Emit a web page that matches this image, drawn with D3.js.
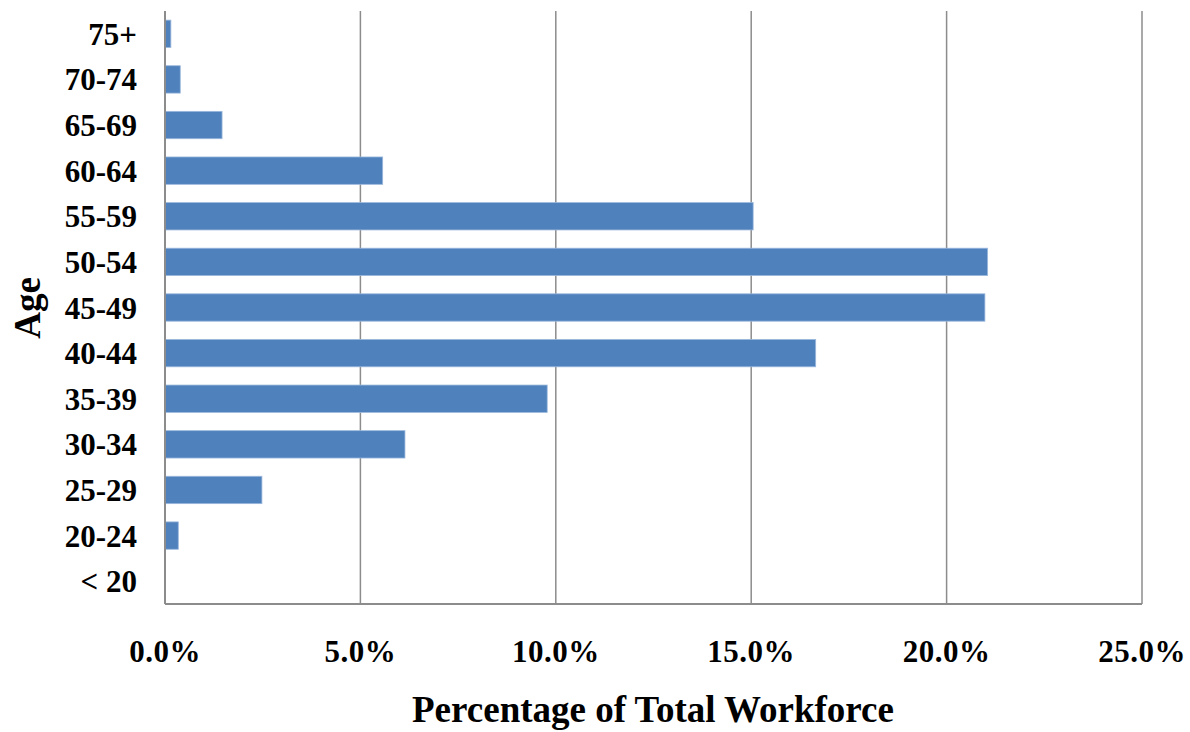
<!DOCTYPE html>
<html>
<head>
<meta charset="utf-8">
<script src="https://cdn.jsdelivr.net/npm/d3@7"></script>
<style>
  body { margin: 0; background: #fff; }
  text { font-family: "Liberation Serif", "Times New Roman", serif; font-weight: bold; fill: #000; }
</style>
</head>
<body>
<div id="chart"></div>
<script>
const ageGroups = ["75+", "70-74", "65-69", "60-64", "55-59", "50-54", "45-49",
  "40-44", "35-39", "30-34", "25-29", "20-24", "< 20"];
const shares = [0.15, 0.39, 1.46, 5.57, 15.05, 21.05, 20.98, 16.65, 9.78, 6.14, 2.48, 0.34, 0];
const xTicks = [0, 5, 10, 15, 20, 25];

const data = ageGroups.map((g, i) => ({ group: g, value: shares[i] }));

const W = 1190, H = 732;
const margin = { top: 11, right: 48, bottom: 128, left: 165 };
const width = W - margin.left - margin.right;
const height = H - margin.top - margin.bottom;

const svg = d3.select('#chart')
  .append('svg')
  .attr('width', W)
  .attr('height', H);

const g = svg.append('g')
  .attr('transform', `translate(${margin.left},${margin.top})`);

const x = d3.scaleLinear()
  .domain([0, 25])
  .range([0, width]);

const y = d3.scaleBand()
  .domain(ageGroups)
  .range([0, height])
  .paddingInner(0.4)
  .paddingOuter(0.2);

// gridlines
g.selectAll('.grid')
  .data(xTicks)
  .join('line')
  .attr('class', 'grid')
  .attr('x1', d => x(d))
  .attr('x2', d => x(d))
  .attr('y1', 0)
  .attr('y2', height)
  .attr('stroke', '#8c8c8c')
  .attr('stroke-width', 1.5);

// bars
g.selectAll('.bar')
  .data(data)
  .join('rect')
  .attr('class', 'bar')
  .attr('x', x(0))
  .attr('y', d => y(d.group))
  .attr('width', d => x(d.value) - x(0))
  .attr('height', y.bandwidth())
  .attr('fill', '#4f81bd')
  .attr('stroke', d => d.value > 0 ? '#9bb8dc' : 'none')
  .attr('stroke-width', 0.8);

// bottom axis line
g.append('line')
  .attr('x1', 0)
  .attr('x2', width)
  .attr('y1', height)
  .attr('y2', height)
  .attr('stroke', '#8c8c8c')
  .attr('stroke-width', 2);

// left axis line
g.append('line')
  .attr('x1', 0)
  .attr('x2', 0)
  .attr('y1', 0)
  .attr('y2', height)
  .attr('stroke', '#8c8c8c')
  .attr('stroke-width', 2);

// x tick labels
g.selectAll('.xlab')
  .data(xTicks)
  .join('text')
  .attr('class', 'xlab')
  .attr('x', d => x(d))
  .attr('y', height + 58)
  .attr('text-anchor', 'middle')
  .style('font-size', '31px')
  .style('letter-spacing', '0.5px')
  .text(d => d.toFixed(1) + '%');

// y tick labels
g.selectAll('.ylab')
  .data(ageGroups)
  .join('text')
  .attr('class', 'ylab')
  .attr('x', -28)
  .attr('y', d => y(d) + y.bandwidth() / 2 + 11)
  .attr('text-anchor', 'end')
  .style('font-size', '31px')
  .text(d => d);

// axis titles
svg.append('text')
  .attr('x', 653)
  .attr('y', 722)
  .attr('text-anchor', 'middle')
  .style('font-size', '37px')
  .text('Percentage of Total Workforce');

svg.append('text')
  .attr('transform', 'translate(40,308) rotate(-90)')
  .attr('text-anchor', 'middle')
  .style('font-size', '37px')
  .text('Age');
</script>
</body>
</html>
